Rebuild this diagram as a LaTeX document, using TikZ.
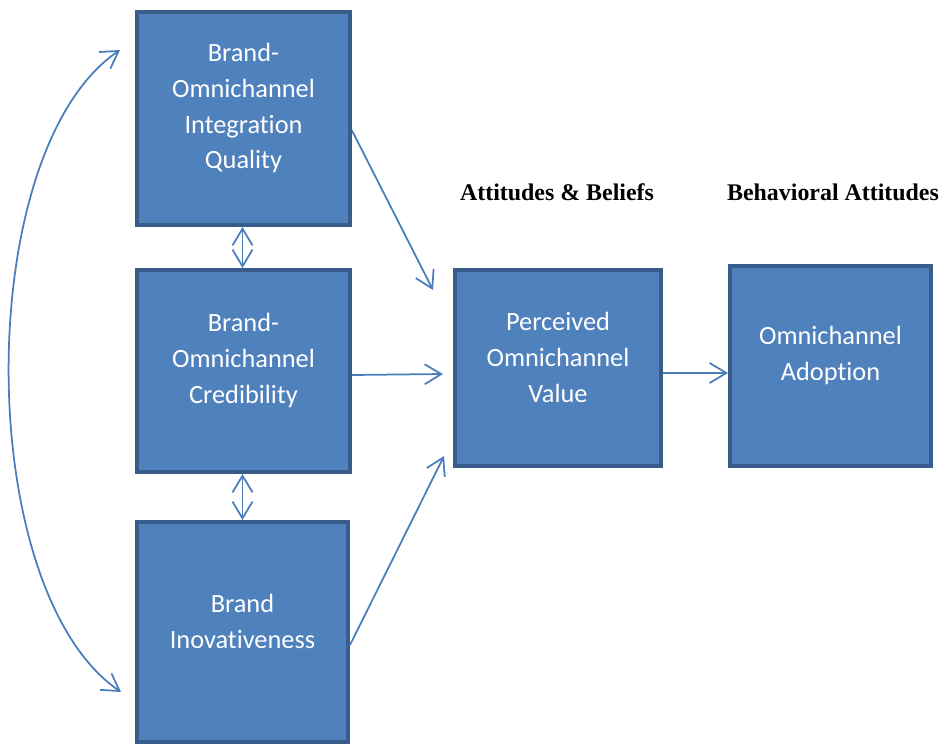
\documentclass[tikz,border=0pt]{standalone}
\usepackage{fontspec}
\setmainfont{Carlito}[Ligatures=NoCommon]
\newfontfamily\headfont{Liberation Serif}
\usetikzlibrary{arrows.meta,positioning}
\definecolor{boxfill}{HTML}{4F81BD}
\definecolor{boxline}{HTML}{385D8A}
\definecolor{arrline}{HTML}{4A7EBB}
\tikzset{
	construct/.style={draw=boxline, fill=boxfill, line width=3.4pt, inner sep=0pt},
	boxtext/.style={text=white, align=center, font=\fontsize{22.5}{30.6}\selectfont},
	heading/.style={font=\headfont\bfseries\fontsize{20.4}{24}\selectfont},
	path/.style={draw=arrline, line width=1.5pt, -{Straight Barb[length=5mm,width=6mm]}},
	both/.style={path, {Straight Barb[length=5mm,width=6mm]}-{Straight Barb[length=5mm,width=6mm]}},
}
\begin{document}
\begin{tikzpicture}[x=0.03cm, y=-0.03cm]
	\useasboundingbox (0,0) rectangle (942,744);
	% exogenous constructs
	\node[construct, minimum width=213*0.03cm, minimum height=213*0.03cm,
		label={[boxtext, yshift=0.31cm]center:Brand-\\Omnichannel\\Integration\\Quality}] (quality) at (243.5,118.5) {};
	\node[construct, minimum width=213*0.03cm, minimum height=202*0.03cm,
		label={[boxtext, yshift=0.31cm]center:Brand-\\Omnichannel\\Credibility}] (cred) at (243.5,371) {};
	\node[construct, minimum width=211*0.03cm, minimum height=220*0.03cm,
		label={[boxtext, yshift=0.31cm]center:Brand\\Inovativeness}] (innov) at (242.5,632) {};
	% mediator and outcome
	\node[construct, minimum width=206*0.03cm, minimum height=196*0.03cm,
		label={[boxtext, yshift=0.31cm]center:Perceived\\Omnichannel\\Value}] (value) at (558,368) {};
	\node[construct, minimum width=201*0.03cm, minimum height=200*0.03cm,
		label={[boxtext, yshift=0.31cm]center:Omnichannel\\Adoption}] (adopt) at (830.5,366) {};
	\node[heading] (beliefs) at (557,192) {Attitudes \& Beliefs};
	\node[heading] (behav) at (833,192) {Behavioral Attitudes};
	% paths
	\draw[path] ([shift={(0,12)}]quality.east) -- ([shift={(-20,-78)}]value.west);
	\draw[path] ([shift={(0,4)}]cred.east) -- ([shift={(-10,6)}]value.west);
	\draw[path] ([shift={(0,13)}]innov.east) -- ([shift={(-9,88)}]value.west);
	\draw[path] ([shift={(0,5)}]value.east) -- ([shift={(0,7)}]adopt.west);
	% correlations
	\draw[both] ([shift={(-1,0)}]quality.south) -- ([shift={(-1,0)}]cred.north);
	\draw[both] ([shift={(-1,0)}]cred.south) -- ([shift={(0,0)}]innov.north);
	\draw[both] ([shift={(-15,40)}]quality.north west) .. controls (-28,150) and (-28,590) .. ([shift={(-14,60)}]innov.west);
\end{tikzpicture}
\end{document}
